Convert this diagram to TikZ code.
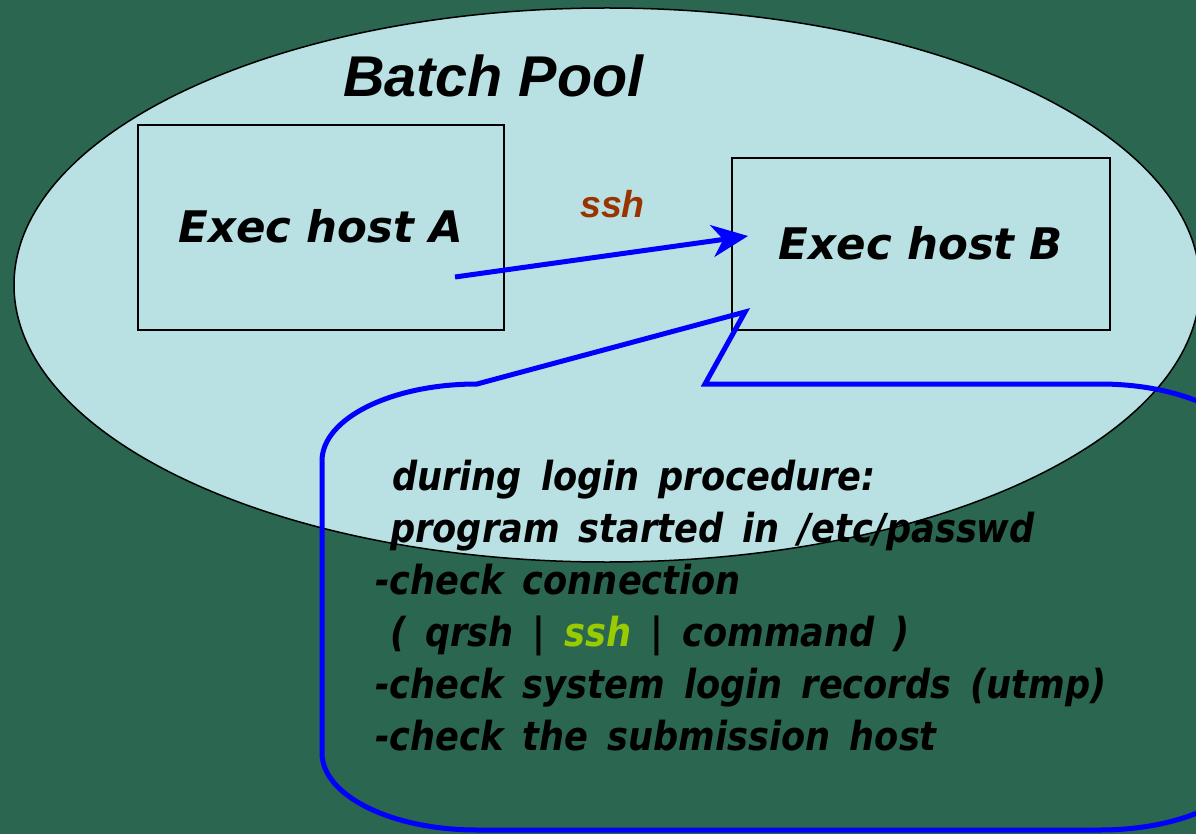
\documentclass[tikz,border=0pt]{standalone}
\usepackage{fontspec}
\setmainfont{Liberation Sans}
\newfontfamily\hostfont{DejaVu Sans}
\newfontfamily\callfont[FakeStretch=0.88]{DejaVu Sans}
\usetikzlibrary{arrows.meta,shapes.geometric}
\definecolor{bg}{RGB}{42,102,80}
\definecolor{pool}{RGB}{185,224,227}
\definecolor{sshbrown}{RGB}{153,51,0}
\definecolor{sshgreen}{RGB}{153,204,0}
\definecolor{callblue}{RGB}{0,0,255}
\newcommand\calltextfont{\callfont\bfseries\itshape\fontsize{40}{40}\selectfont\spaceskip 19pt plus 2pt minus 2pt\relax}
\tikzset{
  hostbox/.style={draw=black, line width=2pt, inner sep=0pt, text height=31pt, text depth=0pt,
    font=\hostfont\bfseries\itshape\fontsize{43.5}{43.5}\selectfont},
  flow/.style={draw=callblue, line width=5pt, -{Stealth[length=36pt,width=32pt,inset=11pt]}},
  callout/.style={draw=callblue, line width=5pt, line join=miter},
  calltext/.style={anchor=base west, inner sep=0pt, font=\calltextfont},
}
\begin{document}
\begin{tikzpicture}[x=1pt,y=-1pt]
\useasboundingbox (0,0) rectangle (1196,834);
\clip (0,0) rectangle (1196,834);
\fill[bg] (0,0) rectangle (1196,834);
\node[ellipse, draw=black, fill=pool, line width=1.5pt, minimum width=1186pt, minimum height=554pt, inner sep=0pt] (pool) at (607,285) {};
\node[anchor=base west, inner sep=0pt, font=\bfseries\itshape\fontsize{57.5}{57.5}\selectfont] (title) at (343,97) {Batch Pool};
\node[hostbox, minimum width=366pt, minimum height=205pt] (A) at (321,227.5) {Exec host A};
\node[hostbox, minimum width=378pt, minimum height=172pt] (B) at (921,244) {Exec host B};
\coordinate (as) at (455,277);
\coordinate (bt) at (748,236);
\draw[flow] (as) -- (bt);
\node[anchor=base west, inner sep=0pt, text=sshbrown, font=\bfseries\itshape\fontsize{37.5}{37.5}\selectfont] (sshlbl) at (580,218) {ssh};
\coordinate (tip) at (745,312);
\draw[callout] (477,384) -- (tip) -- (705,384) -- (1100,384)
  .. controls (1185.6,384) and (1255,418.5) .. (1255,461) -- (1255,753)
  .. controls (1255,795.5) and (1185.6,830) .. (1100,830) -- (477,830)
  .. controls (391.4,830) and (322,795.5) .. (322,753) -- (322,461)
  .. controls (322,418.5) and (391.4,384) .. cycle;
\node[calltext] (l1) at (392,490) {during login procedure:};
\node[calltext] (l2) at (390,542) {program started in /etc/passwd};
\node[calltext] (l3) at (375,594) {-check connection};
\node[calltext] (l4) at (390,646) {( qrsh | \textcolor{sshgreen}{ssh} | command )};
\node[calltext] (l5) at (375,698) {-check system login records (utmp)};
\node[calltext] (l6) at (375,750) {-check the submission host};
\end{tikzpicture}
\end{document}
